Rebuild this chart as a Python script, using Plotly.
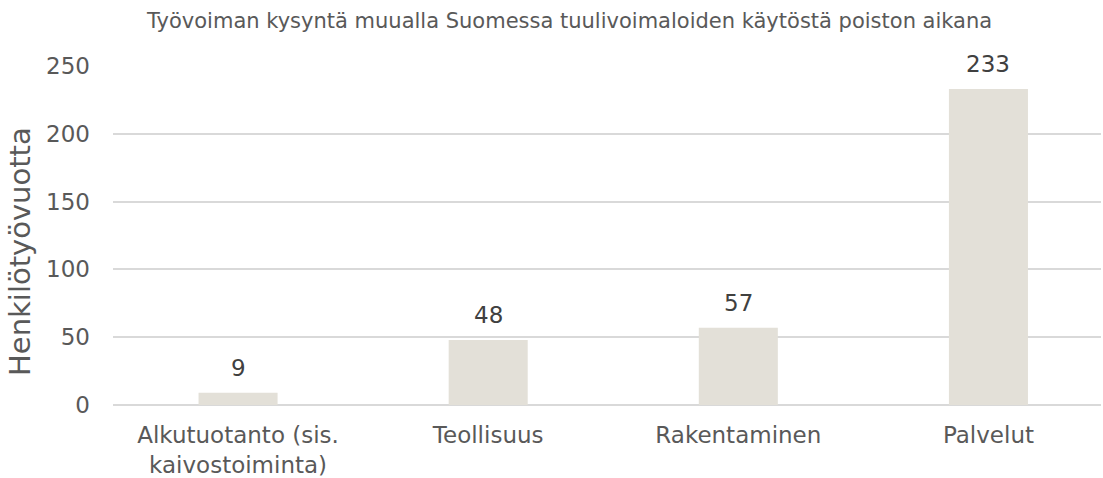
import plotly.graph_objects as go

categories = ["Alkutuotanto (sis.<br>kaivostoiminta)", "Teollisuus", "Rakentaminen", "Palvelut"]
values = [9, 48, 57, 233]
y_ticks = [0, 50, 100, 150, 200, 250]

title_text = "Työvoiman kysyntä muualla Suomessa tuulivoimaloiden käytöstä poiston aikana"
y_title = "Henkilötyövuotta"

FONT = "Verdana, DejaVu Sans, sans-serif"
TEXT = "#595959"

W, H = 1103, 478
ML, MR, MT, MB = 113, 2, 66, 73
PLOT_W = W - ML - MR
PLOT_H = H - MT - MB

fig = go.Figure(
    go.Bar(
        x=list(range(len(categories))),
        y=values,
        marker=dict(color="#E3E0D8", line=dict(width=0)),
        hoverinfo="skip",
    )
)

# value labels sit a fixed distance above each bar
for i, v in enumerate(values):
    fig.add_annotation(
        x=i, y=v, text=str(v), showarrow=False,
        yanchor="middle", yshift=25,
        font=dict(family=FONT, size=23, color="#404040"),
    )

# vertical axis title, placed in paper coordinates
fig.add_annotation(
    text=y_title, textangle=-90, showarrow=False,
    xref="paper", yref="paper",
    x=(20 - ML) / PLOT_W, y=(H - MB - 252) / PLOT_H,
    xanchor="center", yanchor="middle",
    font=dict(family=FONT, size=29, color=TEXT),
)

fig.update_layout(
    width=W, height=H,
    margin=dict(l=ML, r=MR, t=MT, b=MB),
    paper_bgcolor="white", plot_bgcolor="white",
    bargap=0.684,
    showlegend=False,
    font=dict(family=FONT, color=TEXT),
    title=dict(
        text=title_text,
        x=147 / W, xanchor="left", xref="container",
        y=1 - 21 / H, yanchor="middle", yref="container",
        font=dict(family=FONT, size=21, color=TEXT),
    ),
)

fig.update_xaxes(
    tickvals=list(range(len(categories))),
    ticktext=categories,
    range=[-0.5, 3.45],
    automargin=False,
    showgrid=False, zeroline=False, showline=False,
    ticks="", ticklabelstandoff=14,
    tickfont=dict(family=FONT, size=23, color=TEXT),
)

fig.update_yaxes(
    range=[0, 250],
    tickvals=y_ticks,
    automargin=False,
    showgrid=True, gridcolor="#D9D9D9", gridwidth=2,
    zeroline=True, zerolinecolor="#D9D9D9", zerolinewidth=2,
    showline=False, ticks="", ticklabelstandoff=22,
    tickfont=dict(family=FONT, size=23, color=TEXT),
)

fig.write_html("out.html")
